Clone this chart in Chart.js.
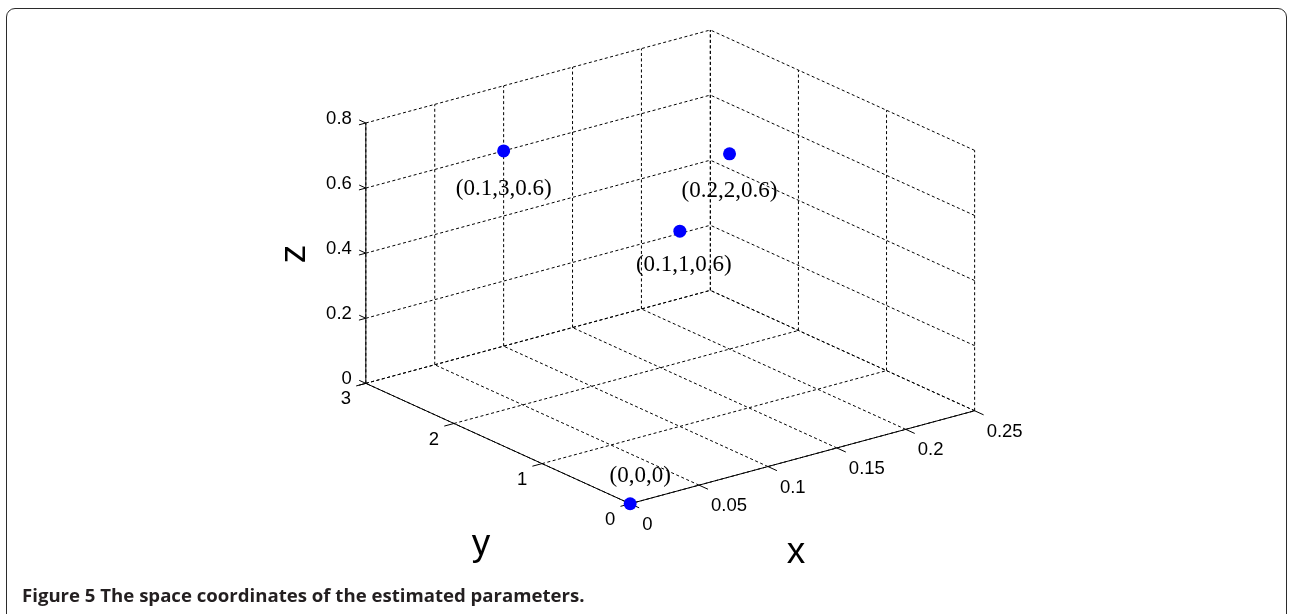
<!DOCTYPE html>
<html>
<head>
<meta charset="utf-8">
<script src="https://cdn.jsdelivr.net/npm/chart.js@4"></script>
<style>
html, body { margin: 0; padding: 0; background: #fff; }
#wrap { position: relative; width: 1289px; height: 614px; overflow: hidden; }
#frame { position: absolute; left: 6px; top: 8px; width: 1281px; height: 660px; border: 1.6px solid #2b2b2b; border-radius: 9px; box-sizing: border-box; }
#chart { position: absolute; left: 0; top: 0; }
#caption { position: absolute; left: 22px; top: 582px; font: bold 18.6px "Open Sans", sans-serif; color: #231f20; white-space: nowrap; }
</style>
</head>
<body>
<div id="wrap">
  <div id="frame"></div>
  <canvas id="chart" width="1289" height="614"></canvas>
  <div id="caption">Figure 5 The space coordinates of the estimated parameters.</div>
</div>
<script>
// axis ticks (also the axis limits)
const xTicks = [0, 0.05, 0.1, 0.15, 0.2, 0.25];
const yTicks = [0, 1, 2, 3];
const zTicks = [0, 0.2, 0.4, 0.6, 0.8];
const xTickLabels = ["0", "0.05", "0.1", "0.15", "0.2", "0.25"];
const yTickLabels = ["0", "1", "2", "3"];
const zTickLabels = ["0", "0.2", "0.4", "0.6", "0.8"];

// the estimated parameters
const ptX = [0.1, 0.2, 0.1, 0];
const ptY = [3, 2, 1, 0];
const ptZ = [0.6, 0.6, 0.6, 0];
const ptNames = ["(0.1,3,0.6)", "(0.2,2,0.6)", "(0.1,1,0.6)", "(0,0,0)"];

const xMin = xTicks[0], xMax = xTicks[xTicks.length - 1];
const yMin = yTicks[0], yMax = yTicks[yTicks.length - 1];
const zMin = zTicks[0], zMax = zTicks[zTicks.length - 1];

// view of the box: where the corner (xMin,yMin,zMin) sits and how each full axis runs on the page
const origin = [630, 508];
const boxX = [348, -95];
const boxY = [-267, -123];
const boxZ = [0, -266];

function proj(x, y, z) {
  const u = (x - xMin) / (xMax - xMin);
  const v = (y - yMin) / (yMax - yMin);
  const w = (z - zMin) / (zMax - zMin);
  return {
    x: origin[0] + u * boxX[0] + v * boxY[0] + w * boxZ[0],
    y: origin[1] + u * boxX[1] + v * boxY[1] + w * boxZ[1],
  };
}

let datasets = [];

function seg(a, b, dashed) {
  datasets.push({
    data: [proj(a[0], a[1], a[2]), proj(b[0], b[1], b[2])],
    showLine: true,
    borderColor: "#000",
    borderWidth: 1,
    borderDash: dashed ? [3, 2.5] : [],
    pointRadius: 0,
    order: dashed ? 3 : 2,
  });
}

// grid on the back walls and the floor
for (let x of xTicks) seg([x, yMax, zMin], [x, yMax, zMax], true);
for (let z of zTicks) seg([xMin, yMax, z], [xMax, yMax, z], true);
for (let y of yTicks) seg([xMax, y, zMin], [xMax, y, zMax], true);
for (let z of zTicks) seg([xMax, yMin, z], [xMax, yMax, z], true);
for (let x of xTicks) seg([x, yMin, zMin], [x, yMax, zMin], true);
for (let y of yTicks) seg([xMin, y, zMin], [xMax, y, zMin], true);

// axes
seg([xMin, yMax, zMin], [xMin, yMax, zMax], false);
seg([xMin, yMin, zMin], [xMin, yMax, zMin], false);
seg([xMin, yMin, zMin], [xMax, yMin, zMin], false);

// tick marks
const ty = 0.034 * (yMax - yMin), tx = 0.028 * (xMax - xMin);
for (let x of xTicks) seg([x, yMin, zMin], [x, yMin - ty, zMin], false);
for (let y of yTicks) seg([xMin, y, zMin], [xMin - tx, y, zMin], false);
for (let z of zTicks) {
  seg([xMin, yMax, z], [xMin, yMax + 0.025 * (yMax - yMin), z], false);
  seg([xMin, yMax, z], [xMin - 0.02 * (xMax - xMin), yMax, z], false);
}

// the points
datasets.push({
  data: ptX.map((x, i) => proj(x, ptY[i], ptZ[i])),
  showLine: false,
  pointRadius: 6.5,
  pointBackgroundColor: "#0000ff",
  pointBorderColor: "#0000ff",
  pointBorderWidth: 0,
  order: 0,
});

// label offsets next to each point (px)
const nameDx = [0, 0, 4, 10];
const nameDy = [38, 37, 34, -28];

const textPlugin = {
  id: "text3d",
  afterDraw(chart) {
    const ctx = chart.ctx;
    const sx = chart.scales.x, sy = chart.scales.y;
    const px = (p) => [sx.getPixelForValue(p.x), sy.getPixelForValue(p.y)];
    ctx.save();
    ctx.fillStyle = "#000";
    ctx.font = '18.5px "Liberation Sans", Arial, sans-serif';

    ctx.textAlign = "left";
    ctx.textBaseline = "middle";
    xTicks.forEach((x, i) => {
      const [a, b] = px(proj(x, yMin, zMin));
      ctx.fillText(xTickLabels[i], a + 12, b + 21);
    });
    ctx.textAlign = "center";
    yTicks.forEach((y, i) => {
      const [a, b] = px(proj(xMin, y, zMin));
      ctx.fillText(yTickLabels[i], a - 20, b + 16);
    });
    ctx.textAlign = "right";
    zTicks.forEach((z, i) => {
      const [a, b] = px(proj(xMin, yMax, z));
      ctx.fillText(zTickLabels[i], a - 14, b - 4);
    });

    // axis titles
    ctx.font = '37px "Liberation Sans", Arial, sans-serif';
    ctx.textAlign = "center";
    ctx.textBaseline = "alphabetic";
    ctx.fillText("x", 796, 563);
    ctx.fillText("y", 481, 555);
    ctx.save();
    ctx.translate(305, 254);
    ctx.rotate(-Math.PI / 2);
    ctx.fillText("z", 0, 0);
    ctx.restore();

    // point names
    ctx.font = '23px "Liberation Serif", "Times New Roman", serif';
    ctx.textBaseline = "middle";
    ptX.forEach((x, i) => {
      const [a, b] = px(proj(x, ptY[i], ptZ[i]));
      ctx.fillText(ptNames[i], a + nameDx[i], b + nameDy[i]);
    });
    ctx.restore();
  },
};

new Chart(document.getElementById("chart"), {
  type: "scatter",
  data: { datasets: datasets },
  options: {
    responsive: false,
    animation: false,
    layout: { padding: 0 },
    plugins: { legend: { display: false }, tooltip: { enabled: false } },
    scales: {
      x: { type: "linear", display: false, min: 0, max: 1289 },
      y: { type: "linear", display: false, min: 0, max: 614, reverse: true },
    },
    elements: { line: { tension: 0 } },
  },
  plugins: [textPlugin],
});
</script>
</body>
</html>
